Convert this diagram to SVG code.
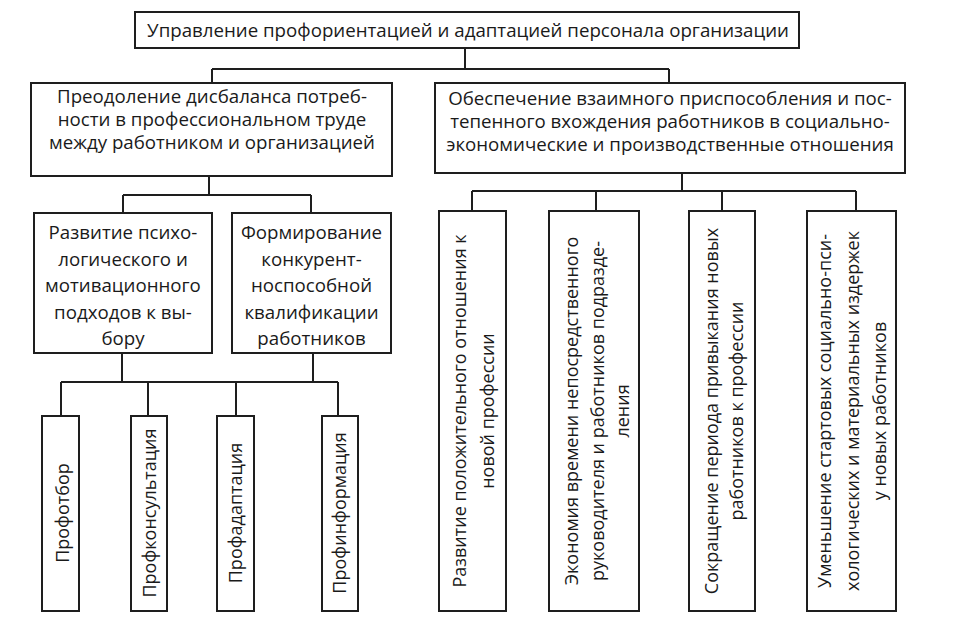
<svg xmlns="http://www.w3.org/2000/svg" width="954" height="624" viewBox="0 0 954 624">
<style>
  .box { fill: #ffffff; stroke: #1e1e1e; stroke-width: 2; }
  .conn { fill: none; stroke: #1e1e1e; stroke-width: 2; }
  text { font-family: "Open Sans", "Noto Sans", "DejaVu Sans", sans-serif; font-size: 18.7px; fill: #1a1a1a; text-anchor: middle; }
  .v { font-size: 18px; }
</style>
<rect x="0" y="0" width="954" height="624" fill="#ffffff"/>
<g id="connectors" class="conn">
  <path d="M465,48 V69 M212,69 H669 M212,69 V83 M669,69 V83"/>
  <path d="M209,176 V195 M123,195 H311 M123,195 V213 M311,195 V213"/>
  <path d="M122,353 V382 M313,353 V382 M61,382 H338 M61,382 V416 M148,382 V416 M236,382 V416 M338,382 V416"/>
  <path d="M682,173 V191 M472,191 H856 M472,191 V211 M596,191 V211 M722,191 V211 M856,191 V211"/>
</g>
<g id="node-top">
  <rect class="box" x="135" y="12" width="664" height="36"/>
  <text x="468" y="37">Управление профориентацией и адаптацией персонала организации</text>
</g>
<g id="node-left">
  <rect class="box" x="31" y="83" width="361" height="93"/>
  <text x="212" y="103">Преодоление дисбаланса потреб-</text>
  <text x="212" y="126">ности в профессиональном труде</text>
  <text x="212" y="149">между работником и организацией</text>
</g>
<g id="node-right">
  <rect class="box" x="435" y="83" width="470" height="90"/>
  <text x="670" y="105">Обеспечение взаимного приспособления и пос-</text>
  <text x="670" y="128">тепенного вхождения работников в социально-</text>
  <text x="670" y="151">экономические и производственные отношения</text>
</g>
<g id="node-psych">
  <rect class="box" x="34" y="213" width="178" height="140"/>
  <text x="123" y="239">Развитие психо-</text>
  <text x="123" y="265.5">логического и</text>
  <text x="123" y="292">мотивационного</text>
  <text x="123" y="318.5">подходов к вы-</text>
  <text x="123" y="345">бору</text>
</g>
<g id="node-compet">
  <rect class="box" x="232" y="213" width="159" height="140"/>
  <text x="311.5" y="239">Формирование</text>
  <text x="311.5" y="265.5">конкурент-</text>
  <text x="311.5" y="292">носпособной</text>
  <text x="311.5" y="318.5">квалификации</text>
  <text x="311.5" y="345">работников</text>
</g>
<g id="node-profotbor">
  <rect class="box" x="42" y="416" width="37" height="195"/>
  <text class="v" transform="translate(69,513) rotate(-90)" x="0" y="0">Профотбор</text>
</g>
<g id="node-profkons">
  <rect class="box" x="131" y="416" width="36" height="195"/>
  <text class="v" transform="translate(156,513) rotate(-90)" x="0" y="0">Профконсультация</text>
</g>
<g id="node-profadapt">
  <rect class="box" x="217" y="416" width="37" height="195"/>
  <text class="v" transform="translate(242,513) rotate(-90)" x="0" y="0">Профадаптация</text>
</g>
<g id="node-profinf">
  <rect class="box" x="322" y="416" width="36" height="195"/>
  <text class="v" transform="translate(346,513) rotate(-90)" x="0" y="0">Профинформация</text>
</g>
<g id="node-r1">
  <rect class="box" x="439" y="211" width="67" height="400"/>
  <text class="v" transform="translate(466,411) rotate(-90)" x="0" y="0">Развитие положительного отношения к</text>
  <text class="v" transform="translate(494,411) rotate(-90)" x="0" y="0">новой профессии</text>
</g>
<g id="node-r2">
  <rect class="box" x="549" y="211" width="90" height="400"/>
  <text class="v" transform="translate(578,411) rotate(-90)" x="0" y="0">Экономия времени непосредственного</text>
  <text class="v" transform="translate(604,411) rotate(-90)" x="0" y="0">руководителя и работников подразде-</text>
  <text class="v" transform="translate(629,411) rotate(-90)" x="0" y="0">ления</text>
</g>
<g id="node-r3">
  <rect class="box" x="689" y="211" width="66" height="400"/>
  <text class="v" transform="translate(718,411) rotate(-90)" x="0" y="0">Сокращение периода привыкания новых</text>
  <text class="v" transform="translate(743,411) rotate(-90)" x="0" y="0">работников к профессии</text>
</g>
<g id="node-r4">
  <rect class="box" x="807" y="211" width="89" height="400"/>
  <text class="v" transform="translate(831,411) rotate(-90)" x="0" y="0">Уменьшение стартовых социально-пси-</text>
  <text class="v" transform="translate(859,411) rotate(-90)" x="0" y="0">хологических и материальных издержек</text>
  <text class="v" transform="translate(886,411) rotate(-90)" x="0" y="0">у новых работников</text>
</g>
</svg>
